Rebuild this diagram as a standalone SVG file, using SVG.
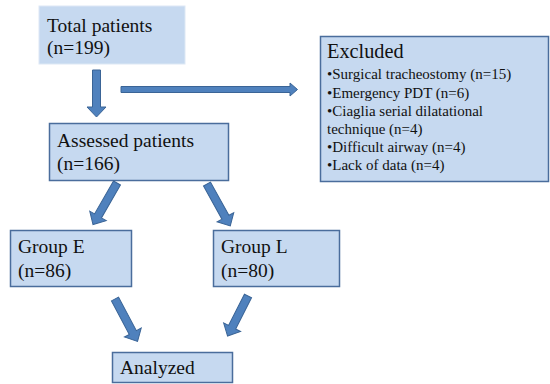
<svg xmlns="http://www.w3.org/2000/svg" width="550" height="384" viewBox="0 0 550 384">
<defs>
<style>
.box{fill:#c6d9f0;stroke:#4a6d9c;stroke-width:1.5}
.box0{fill:#c6d9f0;stroke:#dde8f5;stroke-width:1}
.t{font-family:"Liberation Serif","DejaVu Serif",serif;fill:#111}
.big{font-size:19.5px}
.sm{font-size:15px}
.arr{fill:#4f81bd;stroke:#3a6496;stroke-width:1}
</style>
</defs>
<rect width="550" height="384" fill="#fff"/>
<g id="n-total">
<rect class="box0" x="39" y="6" width="146" height="58"/>
<text class="t big" x="47" y="32">Total patients</text>
<text class="t big" x="47" y="54">(n=199)</text>
</g>
<g id="n-excluded">
<rect class="box" x="320.5" y="36.5" width="228" height="145"/>
<text class="t" x="327" y="58" font-size="20.3">Excluded</text>
<text class="t sm" x="327" y="79">•Surgical tracheostomy (n=15)</text>
<text class="t sm" x="327" y="98">•Emergency PDT (n=6)</text>
<text class="t sm" x="327" y="116">•Ciaglia serial dilatational</text>
<text class="t sm" x="327" y="134">technique (n=4)</text>
<text class="t sm" x="327" y="152">•Difficult airway (n=4)</text>
<text class="t sm" x="327" y="170">•Lack of data (n=4)</text>
</g>
<g id="n-assessed">
<rect class="box" x="49.5" y="123.5" width="179" height="57"/>
<text class="t big" x="57" y="147">Assessed patients</text>
<text class="t big" x="57" y="170">(n=166)</text>
</g>
<g id="n-groupE">
<rect class="box" x="10.5" y="230.5" width="121" height="56"/>
<text class="t big" x="18" y="253">Group E</text>
<text class="t big" x="18" y="277">(n=86)</text>
</g>
<g id="n-groupL">
<rect class="box" x="213.5" y="230.5" width="126" height="56"/>
<text class="t big" x="221" y="253">Group L</text>
<text class="t big" x="221" y="277">(n=80)</text>
</g>
<g id="n-analyzed">
<rect class="box" x="112.5" y="352.5" width="120" height="30"/>
<text class="t big" x="120" y="374">Analyzed</text>
</g>
<g id="connectors">
<path class="arr" d="M92.5,70 H100.5 V107 H106 L96.5,117 L87,107 H92.5 Z"/>
<path class="arr" d="M121,86.5 H290 V83 L297.5,89.5 L290,96 V92.5 H121 Z"/>
<path class="arr" d="M-4,0 H4 V38 H9.5 L0,48 L-9.5,38 H-4 Z" transform="translate(117,183) rotate(30)"/>
<path class="arr" d="M-4,0 H4 V38 H9.5 L0,48 L-9.5,38 H-4 Z" transform="translate(207,184) rotate(-29)"/>
<path class="arr" d="M-4,0 H4 V38 H9.5 L0,48 L-9.5,38 H-4 Z" transform="translate(115,299) rotate(-28)"/>
<path class="arr" d="M-4,0 H4 V35 H9.5 L0,45 L-9.5,35 H-4 Z" transform="translate(248,296) rotate(27)"/>
</g>
</svg>
